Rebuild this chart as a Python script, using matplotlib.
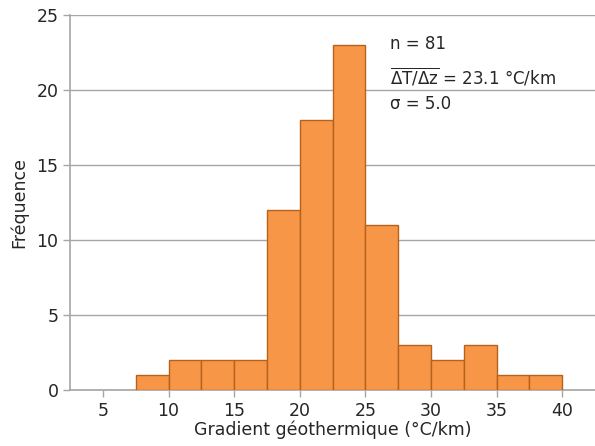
import numpy as np
import matplotlib.pyplot as plt

# histogram of geothermal gradients (bins of 2.5 °C/km)
bin_edges = [7.5, 10, 12.5, 15, 17.5, 20, 22.5, 25, 27.5, 30, 32.5, 35, 37.5, 40]
counts = [1, 2, 2, 2, 12, 18, 23, 11, 3, 2, 3, 1, 1]
x_ticks = [5, 10, 15, 20, 25, 30, 35, 40]
y_ticks = [0, 5, 10, 15, 20, 25]

plt.rcParams['font.family'] = 'DejaVu Sans'
plt.rcParams['mathtext.fontset'] = 'dejavusans'

fig = plt.figure(figsize=(5.95, 4.46), dpi=100)
ax = fig.add_axes([0.118, 0.126, 0.882, 0.840])

grey = '#a6a6a6'
widths = np.diff(bin_edges)
ax.bar(bin_edges[:-1], counts, width=widths, align='edge',
       color='#f79646', edgecolor='#b5621e', linewidth=1.0, zorder=3)

ax.set_xlim(2.5, 42.5)
ax.set_ylim(0, 25)
ax.set_xticks(x_ticks)
ax.set_yticks(y_ticks)
ax.yaxis.grid(True, color=grey, linewidth=1.0, zorder=0)
for s in ['top', 'right']:
    ax.spines[s].set_visible(False)
for s in ['left', 'bottom']:
    ax.spines[s].set_color(grey)
    ax.spines[s].set_linewidth(1.2)
ax.tick_params(axis='both', colors=grey, labelcolor='#262626', labelsize=12.5,
               length=5, width=1.0)

ax.set_xlabel('Gradient géothermique (°C/km)', fontsize=12.5, color='#262626', labelpad=1)
ax.set_ylabel('Fréquence', fontsize=12.5, color='#262626', labelpad=6)

tx = 0.61
ax.text(tx, 0.922, 'n = 81', transform=ax.transAxes, fontsize=12,
        color='#262626', va='center')
ax.text(tx, 0.835, r'$\overline{\mathregular{\Delta T/\Delta z}}$ = 23.1 °C/km',
        transform=ax.transAxes, fontsize=12, color='#262626', va='center')
ax.text(tx, 0.763, 'σ = 5.0', transform=ax.transAxes, fontsize=12,
        color='#262626', va='center')

fig.savefig('out.png', dpi=100)
